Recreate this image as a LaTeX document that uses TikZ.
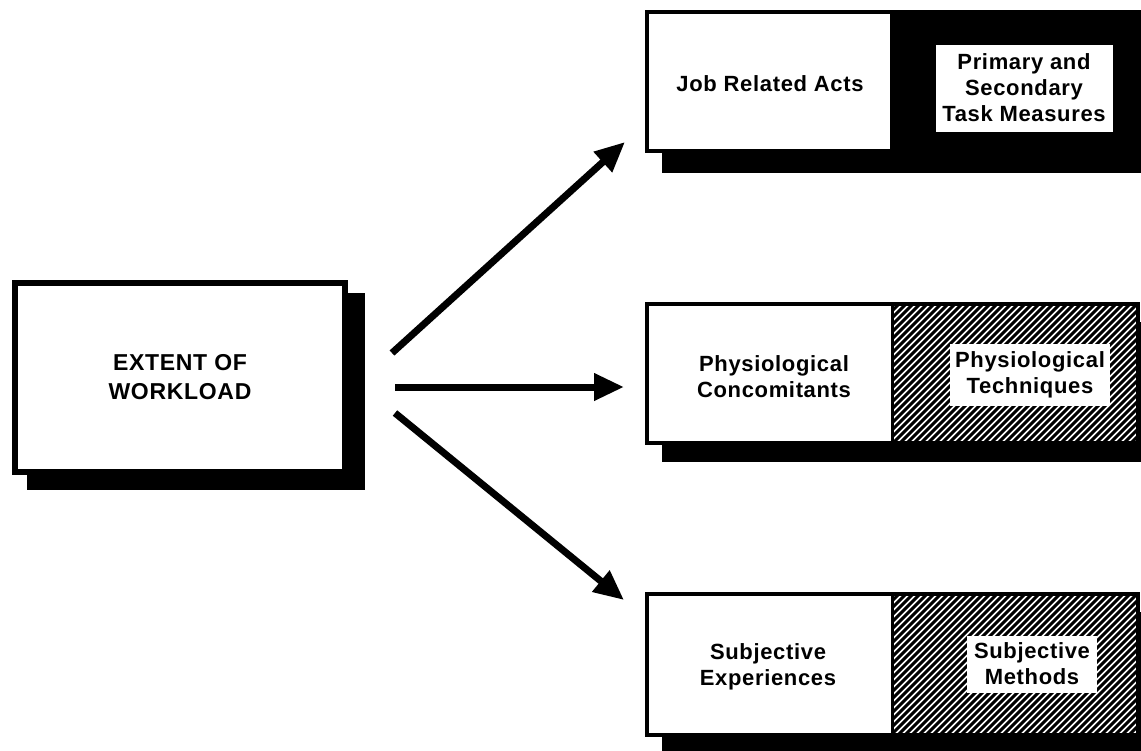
\documentclass[tikz,border=0pt]{standalone}
\usepackage{fontspec}
\setmainfont{Liberation Sans}[LetterSpace=3]
\usetikzlibrary{arrows.meta}

\begin{document}
\begin{tikzpicture}[x=1pt,y=-1pt,
  txt/.style={font=\bfseries\fontsize{22}{26}\selectfont, align=center, inner sep=0pt},
  bigtxt/.style={font=\bfseries\fontsize{23}{29}\selectfont, align=center, inner sep=0pt},
  frame/.style={line width=4pt, draw=black},
  labelbox/.style={txt, fill=white},
  flow/.style={line width=7pt, -{Triangle[length=30pt,width=26pt]}},
  hatchline/.style={line width=3pt},
  shadow/.style={fill=black}
]
\useasboundingbox (0,0) rectangle (1141,750);

% ---- source box with drop shadow
\fill[shadow] (27,293) rectangle (365,490);
\node[draw, line width=6pt, fill=white, minimum width=330pt, minimum height=189pt,
      bigtxt] (ext) at (180,377) {EXTENT OF\\WORKLOAD};

% ---- row 1: job related acts / task measures
\fill[shadow] (662,30) rectangle (1160,173);
\filldraw[frame, fill=white] (647,12) rectangle (1138,151);
\fill[black] (890,10) rectangle (1141,153);
\node[txt] (job) at (770,84) {Job Related Acts};
\node[labelbox, minimum width=177pt, minimum height=87pt] (task) at (1024,88)
     {Primary and\\Secondary\\Task Measures};

% ---- row 2: physiological
\fill[shadow] (662,322) rectangle (1160,462);
\filldraw[frame, fill=white] (647,304) rectangle (1138,443);
\begin{scope}
  \clip (892,304) rectangle (1138,443);
  \foreach \i in {-160,-153,...,260}
    \draw[hatchline] (892+\i,450) -- ++(160,-160);
\end{scope}
\draw[frame] (647,304) rectangle (1138,443);
\draw[line width=3pt] (892,304) -- (892,443);
\node[txt] (phys) at (774,377) {Physiological\\Concomitants};
\node[labelbox, minimum width=160pt, minimum height=62pt] (physm) at (1030,375)
     {Physiological\\Techniques};

% ---- row 3: subjective
\fill[shadow] (662,612) rectangle (1160,770);
\filldraw[frame, fill=white] (647,594) rectangle (1138,735);
\begin{scope}
  \clip (892,594) rectangle (1138,735);
  \foreach \i in {-160,-153,...,260}
    \draw[hatchline] (892+\i,740) -- ++(160,-160);
\end{scope}
\draw[frame] (647,594) rectangle (1138,735);
\draw[line width=3pt] (892,594) -- (892,735);
\node[txt] (subj) at (768,667) {Subjective\\Experiences};
\node[labelbox, minimum width=130pt, minimum height=57pt] (subjm) at (1032,664)
     {Subjective\\Methods};

% ---- arrows
\coordinate (u0) at (392,353); \coordinate (u1) at (625,142);
\coordinate (m0) at (395,387); \coordinate (m1) at (624,387);
\coordinate (d0) at (395,413); \coordinate (d1) at (624,600);
\draw[flow] (u0) -- (u1);
\draw[flow] (m0) -- (m1);
\draw[flow] (d0) -- (d1);
\end{tikzpicture}
\end{document}
